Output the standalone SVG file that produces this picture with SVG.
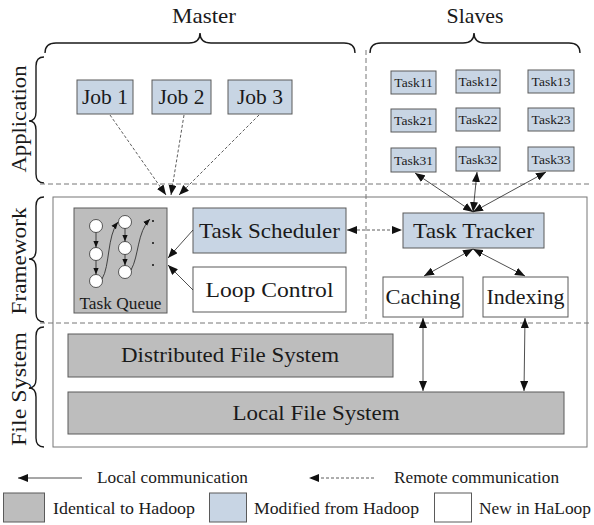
<svg xmlns="http://www.w3.org/2000/svg" width="594" height="525" viewBox="0 0 594 525" font-family="'Liberation Serif', 'Times New Roman', 'DejaVu Serif', serif">
<style>
text{font-family:'Liberation Serif','Times New Roman','DejaVu Serif',serif;fill:#1a1a1a}
.gray{fill:#bdbdbd;stroke:#5a5a5a;stroke-width:1}
.blue{fill:#c8d5e4;stroke:#5a5a5a;stroke-width:1}
.white{fill:#fff;stroke:#5a5a5a;stroke-width:1}
.brace{fill:none;stroke:#1a1a1a;stroke-width:1.4}
.dash{fill:none;stroke:#777;stroke-width:1;stroke-dasharray:5,3}
.ln{fill:none;stroke:#222;stroke-width:0.8}
.dl{fill:none;stroke:#333;stroke-width:0.8;stroke-dasharray:3,2}
.big{font-size:22px}
.mid{font-size:21px}
.tk{font-size:13.5px}
.lg{font-size:17px}
</style>
<defs>
<marker id="ah" viewBox="0 0 10 8" refX="10" refY="4" markerWidth="10" markerHeight="8" markerUnits="userSpaceOnUse" orient="auto-start-reverse"><path d="M0,0 L10,4 L0,8 Z" fill="#111"/></marker>
<marker id="sh" viewBox="0 0 10 8" refX="10" refY="4" markerWidth="7" markerHeight="6" markerUnits="userSpaceOnUse" orient="auto"><path d="M0,0 L10,4 L0,8 Z" fill="#111"/></marker>
</defs>

<!-- headers and braces -->
<text class="big" x="204" y="23" text-anchor="middle" textLength="64" lengthAdjust="spacingAndGlyphs">Master</text>
<text class="big" x="475" y="23" text-anchor="middle" textLength="57" lengthAdjust="spacingAndGlyphs">Slaves</text>
<path class="brace" d="M45,53 Q45,43 56,43 L189,43 Q200,43 200,33 Q200,43 211,43 L344,43 Q355,43 355,53"/>
<path class="brace" d="M370,53 Q370,43 381,43 L463,43 Q474,43 474,33 Q474,43 485,43 L569,43 Q580,43 580,53"/>
<path class="brace" d="M44,57 Q36,57 36,66 L36,112 Q36,121 29,121 Q36,121 36,130 L36,174 Q36,183 44,183"/>
<path class="brace" d="M44,197 Q36,197 36,206 L36,250 Q36,259 29,259 Q36,259 36,268 L36,313 Q36,322 44,322"/>
<path class="brace" d="M44,327 Q36,327 36,336 L36,379 Q36,388 29,388 Q36,388 36,397 L36,438 Q36,447 44,447"/>
<text class="big" transform="translate(26,119) rotate(-90)" text-anchor="middle" textLength="107" lengthAdjust="spacingAndGlyphs">Application</text>
<text class="big" transform="translate(26,261) rotate(-90)" text-anchor="middle" textLength="107" lengthAdjust="spacingAndGlyphs">Framework</text>
<text class="big" transform="translate(26,389) rotate(-90)" text-anchor="middle" textLength="114" lengthAdjust="spacingAndGlyphs">File System</text>

<!-- layer separators -->
<rect x="53" y="197" width="534" height="250" fill="none" stroke="#777" stroke-width="1"/>
<line class="dash" x1="40" y1="184" x2="591" y2="184"/>
<line class="dash" x1="40" y1="323" x2="591" y2="323"/>
<line class="dash" x1="366" y1="50" x2="366" y2="323"/>

<!-- Application nodes -->
<g id="job1"><rect class="blue" x="77" y="80" width="56" height="34"/><text class="mid" x="105" y="104" text-anchor="middle" textLength="46" lengthAdjust="spacingAndGlyphs">Job 1</text></g>
<g id="job2"><rect class="blue" x="152" y="80" width="59" height="34"/><text class="mid" x="181.5" y="104" text-anchor="middle" textLength="46" lengthAdjust="spacingAndGlyphs">Job 2</text></g>
<g id="job3"><rect class="blue" x="228" y="80" width="64" height="34"/><text class="mid" x="260" y="104" text-anchor="middle" textLength="46" lengthAdjust="spacingAndGlyphs">Job 3</text></g>

<g id="task11"><rect class="blue" x="391" y="71" width="45" height="23"/><text class="tk" x="413.5" y="87" text-anchor="middle">Task11</text></g>
<g id="task12"><rect class="blue" x="456" y="70" width="44" height="23"/><text class="tk" x="478" y="86" text-anchor="middle">Task12</text></g>
<g id="task13"><rect class="blue" x="528" y="70" width="46" height="23"/><text class="tk" x="551" y="86" text-anchor="middle">Task13</text></g>
<g id="task21"><rect class="blue" x="391" y="109" width="45" height="23"/><text class="tk" x="413.5" y="125" text-anchor="middle">Task21</text></g>
<g id="task22"><rect class="blue" x="456" y="108" width="44" height="23"/><text class="tk" x="478" y="124" text-anchor="middle">Task22</text></g>
<g id="task23"><rect class="blue" x="528" y="108" width="46" height="23"/><text class="tk" x="551" y="124" text-anchor="middle">Task23</text></g>
<g id="task31"><rect class="blue" x="391" y="148" width="45" height="24"/><text class="tk" x="413.5" y="165" text-anchor="middle">Task31</text></g>
<g id="task32"><rect class="blue" x="456" y="147" width="44" height="24"/><text class="tk" x="478" y="164" text-anchor="middle">Task32</text></g>
<g id="task33"><rect class="blue" x="528" y="147" width="46" height="24"/><text class="tk" x="551" y="164" text-anchor="middle">Task33</text></g>

<!-- Framework nodes -->
<g id="taskqueue">
<rect class="gray" x="74" y="208" width="93" height="105"/>
<g fill="#fff" stroke="#333" stroke-width="0.8">
<circle cx="96" cy="226" r="6.5"/><circle cx="96" cy="254" r="6.5"/><circle cx="96" cy="281" r="6.5"/>
<circle cx="125" cy="222" r="6.5"/><circle cx="125" cy="248" r="6.5"/><circle cx="125" cy="272" r="6.5"/>
</g>
<g class="ln" marker-end="url(#sh)">
<line x1="96" y1="232.5" x2="96" y2="247.5"/>
<line x1="96" y1="260.5" x2="96" y2="274.5"/>
<line x1="125" y1="228.5" x2="125" y2="241.5"/>
<line x1="125" y1="254.5" x2="125" y2="265.5"/>
<path d="M102,279 C110,266 107,236 118,222"/>
<path d="M131,270 C139,256 137,232 150,219"/>
</g>
<g fill="#111"><circle cx="153" cy="221" r="1"/><circle cx="153" cy="243" r="1"/><circle cx="153" cy="265" r="1"/></g>
<text x="120.5" y="309" font-size="17" text-anchor="middle" textLength="82" lengthAdjust="spacingAndGlyphs">Task Queue</text>
</g>
<g id="scheduler"><rect class="blue" x="193" y="208" width="153" height="45"/><text class="big" x="269.5" y="238" text-anchor="middle" textLength="141" lengthAdjust="spacingAndGlyphs">Task Scheduler</text></g>
<g id="loopcontrol"><rect class="white" x="193" y="267" width="153" height="45"/><text class="big" x="269.5" y="297" text-anchor="middle" textLength="128" lengthAdjust="spacingAndGlyphs">Loop Control</text></g>
<g id="tracker"><rect class="blue" x="403" y="213" width="141" height="35"/><text class="big" x="473.5" y="238" text-anchor="middle" textLength="121" lengthAdjust="spacingAndGlyphs">Task Tracker</text></g>
<g id="caching"><rect class="white" x="383" y="277" width="80" height="40"/><text class="big" x="423" y="304" text-anchor="middle" textLength="75" lengthAdjust="spacingAndGlyphs">Caching</text></g>
<g id="indexing"><rect class="white" x="483" y="277" width="85" height="40"/><text class="big" x="525.5" y="304" text-anchor="middle" textLength="78" lengthAdjust="spacingAndGlyphs">Indexing</text></g>

<!-- File system nodes -->
<g id="dfs"><rect class="gray" x="68" y="334" width="325" height="43"/><text class="big" x="230" y="362" text-anchor="middle" textLength="218" lengthAdjust="spacingAndGlyphs">Distributed File System</text></g>
<g id="lfs"><rect class="gray" x="68" y="392" width="496" height="42"/><text class="big" x="316" y="420" text-anchor="middle" textLength="167" lengthAdjust="spacingAndGlyphs">Local File System</text></g>

<!-- connectors -->
<g id="connectors">
<g class="dl" marker-end="url(#ah)">
<line x1="110" y1="115" x2="166" y2="195"/>
<line x1="184" y1="115" x2="171" y2="195"/>
<line x1="259" y1="115" x2="179" y2="195"/>
</g>
<line class="dl" x1="347" y1="230" x2="402" y2="230" marker-start="url(#ah)" marker-end="url(#ah)"/>
<g class="ln" marker-start="url(#ah)" marker-end="url(#ah)">
<line x1="473" y1="212" x2="415" y2="173"/>
<line x1="473" y1="212" x2="477" y2="172"/>
<line x1="473" y1="212" x2="546" y2="172"/>
<line x1="473" y1="249" x2="424" y2="276"/>
<line x1="473" y1="249" x2="525" y2="276"/>
<line x1="423" y1="318" x2="423" y2="391"/>
<line x1="525" y1="318" x2="524" y2="391"/>
</g>
<g class="ln" marker-end="url(#ah)">
<line x1="193" y1="230" x2="168" y2="258"/>
<line x1="193" y1="290" x2="168" y2="265"/>
</g>
</g>

<!-- legend -->
<g id="legend">
<line class="ln" x1="82" y1="478" x2="18" y2="478" marker-end="url(#ah)"/>
<text class="lg" x="97" y="483" textLength="151" lengthAdjust="spacingAndGlyphs">Local communication</text>
<line class="dl" x1="374" y1="478" x2="309" y2="478" marker-end="url(#ah)"/>
<text class="lg" x="394" y="483" textLength="165" lengthAdjust="spacingAndGlyphs">Remote communication</text>
<rect class="gray" x="3.5" y="493" width="41" height="29"/>
<text class="lg" x="53" y="514" textLength="142" lengthAdjust="spacingAndGlyphs">Identical to Hadoop</text>
<rect class="blue" x="209.5" y="493" width="37" height="29"/>
<text class="lg" x="254" y="514" textLength="165" lengthAdjust="spacingAndGlyphs">Modified from Hadoop</text>
<rect class="white" x="434.5" y="493" width="37" height="29"/>
<text class="lg" x="479" y="514" textLength="112" lengthAdjust="spacingAndGlyphs">New in HaLoop</text>
</g>
</svg>
